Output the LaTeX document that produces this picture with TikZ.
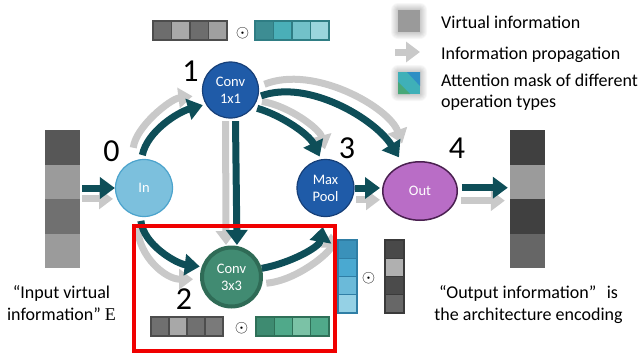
\documentclass[tikz,border=0pt]{standalone}
\usepackage{fontspec}
\setmainfont{Carlito}
\newfontfamily\serifE{Liberation Serif}
\usetikzlibrary{arrows.meta,shapes.geometric}
\definecolor{dteal}{HTML}{0E4E58}
\definecolor{lgray}{HTML}{C9C9C9}
\definecolor{inblue}{HTML}{7CC0DD}
\definecolor{inedge}{HTML}{4BA3CC}
\definecolor{opblue}{HTML}{1F5BA8}
\definecolor{opedge}{HTML}{163F78}
\definecolor{outfill}{HTML}{B96DC6}
\definecolor{outedge}{HTML}{4A2050}
\definecolor{cgreen}{HTML}{418B72}
\definecolor{cgedge}{HTML}{2F6B56}
\definecolor{redbox}{HTML}{F00000}
\tikzset{
  darr/.style={draw=dteal, line width=7pt, -{Triangle[length=15pt,width=21pt]}},
  garr/.style={draw=lgray, line width=7pt, -{Triangle[length=14pt,width=20pt]}},
  opnode/.style={circle, inner sep=0pt, text=white, align=center, font=\fontsize{14.5}{17}\selectfont},
  digit/.style={inner sep=0pt, font=\fontsize{32}{32}\selectfont},
  legtext/.style={inner sep=0pt, font=\fontsize{18}{21}\selectfont},
  captext/.style={inner sep=0pt, font=\fontsize{18}{21}\selectfont},
  odotnode/.style={inner sep=0pt, font=\fontsize{16}{16}\selectfont},
  graycell/.style={draw={rgb,255:red,77;green,77;blue,77}, line width=1.3pt},
}
\begin{document}
\begin{tikzpicture}[x=1pt,y=-1pt]
\useasboundingbox (0,0) rectangle (640,354);

% ---------- nodes ----------
\node[opnode, minimum size=57pt, fill=inblue, draw=inedge, line width=1.2pt] (in) at (144,188) {In};
\node[opnode, minimum size=56pt, fill=opblue, draw=opedge, line width=1.2pt] (c1) at (230.5,90) {Conv\\1x1};
\node[opnode, minimum size=59pt, fill=cgreen, draw=cgedge, line width=4pt] (c3) at (231.5,277) {Conv\\3x3};
\node[opnode, minimum size=57pt, fill=opblue, draw=opedge, line width=1.2pt] (mp) at (325.5,188) {Max\\Pool};
\node[ellipse, inner sep=0pt, minimum width=74.5pt, minimum height=58.5pt, fill=outfill, draw=outedge, line width=1.5pt, text=white, font=\fontsize{14.5}{17}\selectfont] (out) at (420,191) {Out};

% input / output vectors
\node[minimum width=35pt, minimum height=138pt, inner sep=0pt] (invec) at (62.5,199) {};
\fill[fill={rgb,255:red,87;green,87;blue,87}] (45,130) rectangle (80,164.5);
\fill[fill={rgb,255:red,155;green,155;blue,155}] (45,164.5) rectangle (80,199);
\fill[fill={rgb,255:red,112;green,112;blue,112}] (45,199) rectangle (80,233.5);
\fill[fill={rgb,255:red,155;green,155;blue,155}] (45,233.5) rectangle (80,268);

\node[minimum width=35pt, minimum height=138pt, inner sep=0pt] (outvec) at (527.5,199) {};
\fill[fill={rgb,255:red,64;green,64;blue,64}] (510,130) rectangle (545,164.5);
\fill[fill={rgb,255:red,155;green,155;blue,155}] (510,164.5) rectangle (545,199);
\fill[fill={rgb,255:red,64;green,64;blue,64}] (510,199) rectangle (545,233.5);
\fill[fill={rgb,255:red,102;green,102;blue,102}] (510,233.5) rectangle (545,268);

% ---------- gray propagation arrows ----------
\draw[garr, shorten <=14pt, shorten >=10pt] (in.115) .. controls +(4,-35) and +(-32,4) .. (c1.190);
\draw[garr, shorten <=3pt, shorten >=1pt] (c1.-100) -- (c3.100);
\draw[garr, shorten <=5pt, shorten >=10pt] (c1.-22) .. controls +(32,5) and +(-8,-30) .. (mp.86);
\draw[garr, shorten <=6pt, shorten >=20pt] (c1.7) .. controls +(55,-22) and +(-20,-55) .. (out.111);
\draw[garr, shorten <=12pt, shorten >=7pt] (in.-104) .. controls +(2,40) and +(-35,0) .. (c3.184);
\draw[garr, shorten <=4pt, shorten >=17pt] (c3.-12) .. controls +(35,-3) and +(0,35) .. (mp.-79);
\draw[garr, shorten <=4pt, shorten >=2pt] (mp.-24) -- (mp.-24 -| out.west);
\draw[garr, shorten <=2pt, shorten >=4pt] (invec.east |- in.202) -- (in.202);
\draw[garr, shorten <=5pt, shorten >=5pt] (out.-15) -- (out.-15 -| outvec.west);

% ---------- dark arrows ----------
\draw[darr, shorten <=4pt, shorten >=3pt] (in.95) .. controls +(6,-28) and +(-28,8) .. (c1.210);
\draw[darr, shorten <=3pt, shorten >=1pt] (c1.-80) -- (c3.80);
\draw[darr, shorten <=4pt, shorten >=3pt] (c1.-37) .. controls +(28,8) and +(-12,-25) .. (mp.99);
\draw[darr, shorten <=3pt, shorten >=8pt] (c1.-14) .. controls +(50,-18) and +(-28,-45) .. (out.122);
\draw[darr, shorten <=4pt, shorten >=2pt] (in.-97) .. controls +(3,28) and +(-25,-3) .. (c3.161);
\draw[darr, shorten >=10pt] (c3.16) .. controls +(28,-5) and +(-5,30) .. (mp.-92);
\draw[darr, shorten >=2pt] (mp.east) -- (mp.east -| out.west);
\draw[darr, shorten <=2pt] (invec.east |- in.west) -- (in.west);
\draw[darr, shorten <=4pt, shorten >=2pt] (out.5) -- (out.5 -| outvec.west);

% ---------- digit labels ----------
\node[digit] (d0) at (111.5,151.5) {0};
\node[digit] (d1) at (190.5,71) {1};
\node[digit] (d2) at (184,299) {2};
\node[digit] (d3) at (347,148) {3};
\node[digit] (d4) at (457,148) {4};

% ---------- top vectors ----------
\filldraw[graycell, fill={rgb,255:red,109;green,109;blue,109}] (153,21) rectangle (171.5,40);
\filldraw[graycell, fill={rgb,255:red,169;green,169;blue,169}] (171.5,21) rectangle (190,40);
\filldraw[graycell, fill={rgb,255:red,109;green,109;blue,109}] (190,21) rectangle (208.5,40);
\filldraw[graycell, fill={rgb,255:red,160;green,160;blue,160}] (208.5,21) rectangle (227,40);
\node[odotnode] (o1) at (242.5,33) {$\odot$};
\begin{scope}[draw={rgb,255:red,47;green,125;blue,132}, line width=1.3pt]
\filldraw[fill={rgb,255:red,61;green,141;blue,147}] (255,21) rectangle (273.5,40);
\filldraw[fill={rgb,255:red,74;green,175;blue,184}] (273.5,21) rectangle (292,40);
\filldraw[fill={rgb,255:red,114;green,193;blue,201}] (292,21) rectangle (310.5,40);
\filldraw[fill={rgb,255:red,155;green,213;blue,221}] (310.5,21) rectangle (329,40);
\end{scope}

% ---------- vectors in the red box ----------
\filldraw[graycell, fill={rgb,255:red,112;green,112;blue,112}] (151,317) rectangle (169,336);
\filldraw[graycell, fill={rgb,255:red,168;green,168;blue,168}] (169,317) rectangle (187,336);
\filldraw[graycell, fill={rgb,255:red,112;green,112;blue,112}] (187,317) rectangle (205,336);
\filldraw[graycell, fill={rgb,255:red,122;green,122;blue,122}] (205,317) rectangle (223,336);
\node[odotnode] (o2) at (241.5,328) {$\odot$};
\begin{scope}[draw={rgb,255:red,47;green,112;blue,88}, line width=1.3pt]
\filldraw[fill={rgb,255:red,62;green,139;blue,113}] (256,317) rectangle (274.25,336);
\filldraw[fill={rgb,255:red,80;green,169;blue,138}] (274.25,317) rectangle (292.5,336);
\filldraw[fill={rgb,255:red,123;green,194;blue,166}] (292.5,317) rectangle (310.75,336);
\filldraw[fill={rgb,255:red,80;green,169;blue,138}] (310.75,317) rectangle (329,336);
\end{scope}

% ---------- vertical vectors ----------
\begin{scope}[draw={rgb,255:red,47;green,126;blue,165}, line width=1.3pt]
\filldraw[fill={rgb,255:red,58;green,145;blue,186}] (338,240) rectangle (357,258.25);
\filldraw[fill={rgb,255:red,74;green,169;blue,209}] (338,258.25) rectangle (357,276.5);
\filldraw[fill={rgb,255:red,107;green,186;blue,217}] (338,276.5) rectangle (357,294.75);
\filldraw[fill={rgb,255:red,149;green,209;blue,229}] (338,294.75) rectangle (357,313);
\end{scope}
\node[odotnode] (o3) at (368.5,278) {$\odot$};
\begin{scope}[draw={rgb,255:red,58;green,58;blue,58}, line width=1.3pt]
\filldraw[fill={rgb,255:red,73;green,73;blue,73}] (385,240) rectangle (404,258.25);
\filldraw[fill={rgb,255:red,176;green,176;blue,176}] (385,258.25) rectangle (404,276.5);
\filldraw[fill={rgb,255:red,75;green,75;blue,75}] (385,276.5) rectangle (404,294.75);
\filldraw[fill={rgb,255:red,103;green,103;blue,103}] (385,294.75) rectangle (404,313);
\end{scope}

% ---------- red highlight box ----------
\draw[redbox, line width=4pt] (134,225.5) rectangle (335,351);

% ---------- legend ----------
\foreach \k in {1,...,7} {
  \fill[black, opacity=0.03, rounded corners=\k pt] (398-\k,10-\k) rectangle (420+\k,32+\k);
  \fill[black, opacity=0.03, rounded corners=\k pt] (398-\k,72-\k) rectangle (420+\k,94+\k);
}
\fill[fill={rgb,255:red,154;green,154;blue,154}] (398,10) rectangle (420,32);
\node[legtext, anchor=base west] (l1) at (441,28) {Virtual information};
\coordinate (la) at (395,52);
\coordinate (lb) at (420,52);
\draw[draw=lgray, line width=7pt, -{Triangle[length=14pt,width=20pt]}] (la) -- (lb);
\node[legtext, anchor=base west] (l2) at (441,59) {Information propagation};
\fill[fill={rgb,255:red,63;green,176;blue,184}] (398,72) rectangle (420,94);
\fill[fill={rgb,255:red,46;green,143;blue,196}] (407,72) -- (420,72) -- (420,86) -- cycle;
\fill[fill={rgb,255:red,72;green,168;blue,120}] (398,82) -- (398,94) -- (410,94) -- cycle;
\node[legtext, anchor=base west] (l3) at (441,86) {Attention mask of different};
\node[legtext, anchor=base west] (l4) at (441,107) {operation types};

% ---------- captions ----------
\node[captext, anchor=base] (t1) at (61.5,298) {“Input virtual};
\node[captext, anchor=base] (t2) at (61.5,320) {information” {\serifE E}};
\node[captext, anchor=base] (t3) at (528.5,298) {“Output information”\hspace{0.35em} is};
\node[captext, anchor=base] (t4) at (528.5,320) {the architecture encoding};
\end{tikzpicture}
\end{document}
